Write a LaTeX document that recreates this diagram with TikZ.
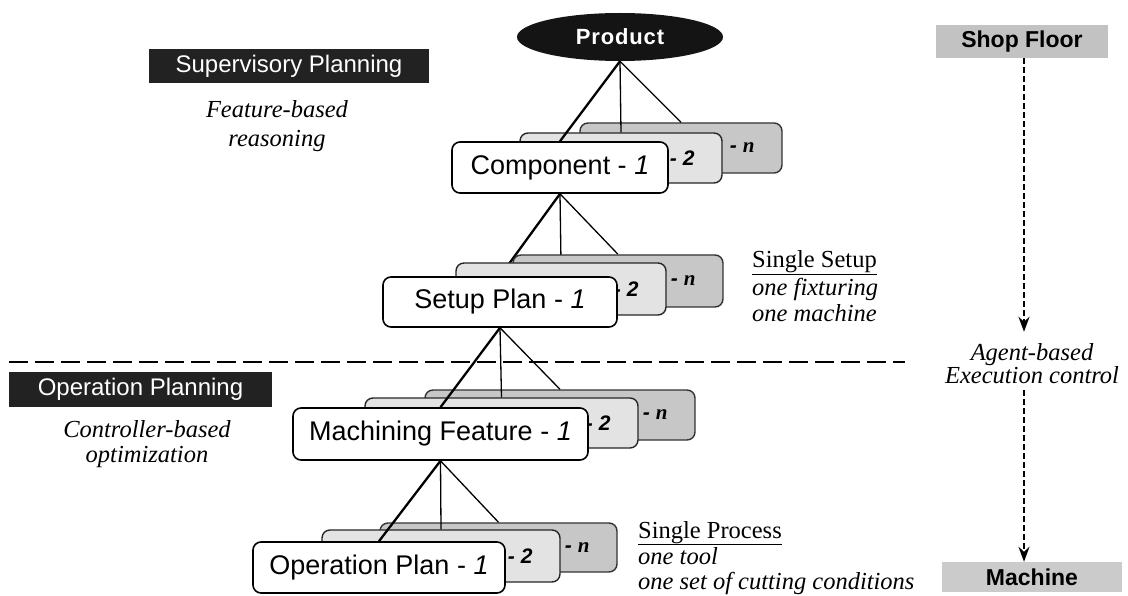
\documentclass[tikz,border=0pt]{standalone}
\usepackage{fontspec}
\setmainfont{Liberation Serif}
\setsansfont{Liberation Sans}
\usetikzlibrary{arrows.meta,shapes.geometric}
\definecolor{bandcol}{HTML}{222222}
\definecolor{midfill}{HTML}{E3E3E3}
\definecolor{backfill}{HTML}{C7C7C7}
\definecolor{tagfill}{HTML}{C2C2C2}
\newcommand\fsz[2]{\fontsize{#1}{#2}\selectfont}
\pgfdeclarelayer{rearlayer}
\pgfdeclarelayer{linklayer}
\pgfsetlayers{rearlayer,linklayer,main}
\begin{document}
\begin{tikzpicture}[x=1pt,y=-1pt,
  front/.style={draw=black, line width=1.6pt, rounded corners=8pt, fill=white, inner sep=0pt, font=\sffamily\fsz{27}{30}},
  middle/.style={draw=black!85, line width=1.4pt, rounded corners=8pt, fill=midfill, inner sep=0pt},
  rear/.style={draw=black!80, line width=1.4pt, rounded corners=8pt, fill=backfill, inner sep=0pt},
  idx/.style={anchor=east, inner sep=0pt, font=\sffamily\bfseries\itshape\fsz{21}{24}},
  thin link/.style={line width=1.3pt},
  main link/.style={line width=2.3pt},
  band/.style={fill=bandcol, text=white, inner sep=0pt, font=\sffamily\fsz{24}{28}},
  tag/.style={fill=tagfill, inner sep=0pt, font=\sffamily\bfseries\fsz{23}{26}},
  note/.style={inner sep=0pt, font=\fsz{24.5}{27}},
  flow/.style={line width=2.4pt, dash pattern=on 6pt off 3pt, -{Stealth[length=15pt,width=11pt,inset=5pt]}},
  sep/.style={line width=2pt, dash pattern=on 19pt off 7pt},
]
\useasboundingbox (0,0) rectangle (1128,596);

% ---------- root ----------
\node[ellipse, fill=black!92, text=white, inner sep=0pt, minimum width=206pt, minimum height=48pt,
      font=\sffamily\bfseries\fsz{22}{24}\addfontfeature{LetterSpace=4}] (prod) at (620,37) {Product};

% ---------- stacked cards behind the links ----------
\begin{pgfonlayer}{rearlayer}
  % components
  \node[rear, minimum width=202pt, minimum height=50pt] (cn) at (681,148) {};
  \node[idx] (cnl) at ([xshift=-28pt]cn.east) {- {\rmfamily n}};
  \node[middle, minimum width=202pt, minimum height=50pt] (c2) at (621,158) {};
  \node[idx] (c2l) at ([xshift=-28pt]c2.east) {- 2};
  % machining features
  \node[rear, minimum width=270pt, minimum height=50pt] (mn) at (560,415) {};
  \node[idx] (mnl) at ([xshift=-28pt]mn.east) {- {\rmfamily n}};
  \node[middle, minimum width=273pt, minimum height=50pt] (m2) at (501.5,423) {};
  \node[idx] (m2l) at ([xshift=-28pt]m2.east) {- 2};
  % operation plans
  \node[rear, minimum width=237pt, minimum height=49pt] (on) at (498.5,547.5) {};
  \node[idx] (onl) at ([xshift=-28pt]on.east) {- {\rmfamily n}};
  \node[middle, minimum width=238pt, minimum height=52pt] (o2) at (441,556) {};
  \node[idx] (o2l) at ([xshift=-28pt]o2.east) {- 2};
\end{pgfonlayer}

% ---------- front cards ----------
\node[front, minimum width=216pt, minimum height=51pt] (c1) at (560,167.5) {Component - \textit{1}};

\node[rear, minimum width=210pt, minimum height=52pt] (sn) at (618,281) {};
\node[idx] (snl) at ([xshift=-28pt]sn.east) {- {\rmfamily n}};
\node[middle, minimum width=210pt, minimum height=52pt] (s2) at (561,289) {};
\node[idx] (s2l) at ([xshift=-28pt]s2.east) {- 2};
\node[front, minimum width=234pt, minimum height=50pt] (s1) at (500,302) {Setup Plan - \textit{1}};

\node[front, minimum width=295pt, minimum height=52pt] (m1) at (440.5,434) {Machining Feature - \textit{1}};
\node[front, minimum width=252pt, minimum height=51pt] (o1) at (379,567.5) {Operation Plan - \textit{1}};

% ---------- tree links ----------
\begin{pgfonlayer}{linklayer}
  \draw[main link] (prod.south) -- (c1.north);
  \draw[thin link] (prod.south) -- (c2.north);
  \draw[thin link] (prod.south) -- (cn.north);
  \draw[main link] (c1.south) -- (s1.north);
  \draw[thin link] (c1.south) -- (s2.north);
  \draw[thin link] (c1.south) -- (sn.north);
  \draw[main link] (s1.south) -- (m1.north);
  \draw[thin link] (s1.south) -- (m2.north);
  \draw[thin link] (s1.south) -- (mn.north);
  \draw[main link] (m1.south) -- (o1.north);
  \draw[thin link] (m1.south) -- (o2.north);
  \draw[thin link] (m1.south) -- (on.north);
\end{pgfonlayer}

% ---------- level separator ----------
\coordinate (sepL) at (9,362);
\coordinate (sepR) at (905,362);
\draw[sep] (sepL) -- (sepR);

% ---------- planning levels ----------
\node[band, minimum width=280pt, minimum height=34pt] (sup) at (289,66) {Supervisory Planning};
\node[note, anchor=base] (sup1) at (277,118) {\itshape Feature-based};
\node[note, anchor=base] (sup2) at (277,147) {\itshape reasoning};

\node[band, minimum width=263pt, minimum height=35pt] (opp) at (140.5,389.5) {Operation Planning};
\node[note, anchor=base] (opp1) at (147,437) {\itshape Controller-based};
\node[note, anchor=base] (opp2) at (147,462) {\itshape optimization};

% ---------- annotations ----------
\node[note, anchor=base west] (ss0) at (752,268) {\underline{Single Setup}};
\node[note, anchor=base west] (ss1) at (752,295) {\itshape one fixturing};
\node[note, anchor=base west] (ss2) at (752,322) {\itshape one machine};

\node[note, anchor=base west] (sp0) at (638,538) {\underline{Single Process}};
\node[note, anchor=base west] (sp1) at (638,564) {\itshape one tool};
\node[note, anchor=base west] (sp2) at (638,589) {\itshape one set of cutting conditions};

% ---------- execution control column ----------
\node[tag, minimum width=172pt, minimum height=33pt] (shop) at (1022,41.5) {Shop Floor};
\node[tag, fill=tagfill!85, minimum width=180pt, minimum height=30pt] (mach) at (1032,577) {Machine};
\node[note, anchor=base, inner ysep=11pt] (ag1) at (1032,360) {\itshape Agent-based};
\node[note, anchor=base, inner ysep=7pt] (ag2) at (1032,383) {\itshape Execution control};
\coordinate (ax) at (1024,0);
\draw[flow] (shop.south -| ax) -- (ag1.north -| ax);
\draw[flow] (ag2.south -| ax) -- (mach.north -| ax);
\end{tikzpicture}
\end{document}
